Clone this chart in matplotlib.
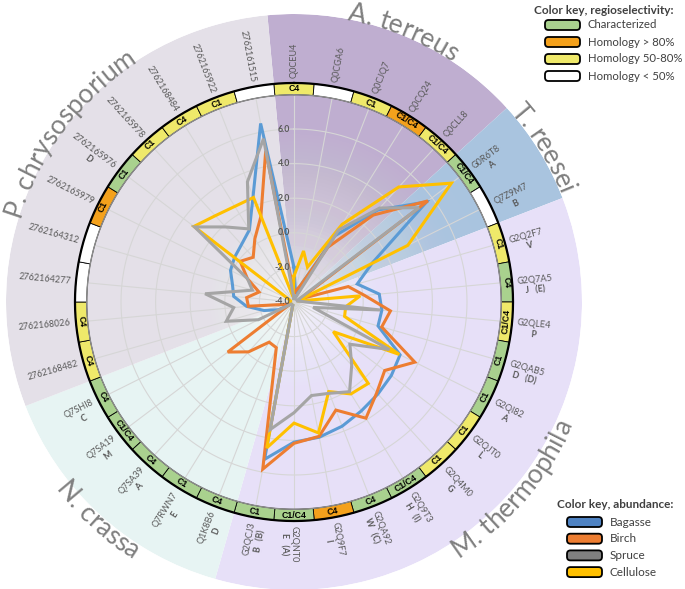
import numpy as np
import matplotlib
matplotlib.use("Agg")
import matplotlib.pyplot as plt
from matplotlib.patches import FancyBboxPatch
from matplotlib.font_manager import FontProperties

plt.rcParams['font.family'] = ['Lato', 'DejaVu Sans']

# --- data, clockwise from the top ---
enzymes = ['Q0CEU4', 'Q0CGA6', 'Q0CJQ7', 'Q0CQ24', 'Q0CLL8',
           'G0R6T8', 'Q7Z9M7',
           'G2Q2F7', 'G2Q7A5', 'G2QLE4', 'G2QAB5', 'G2QI82', 'G2QJT0',
           'G2Q4M0', 'G2Q9T3', 'G2QA92', 'G2Q9F7', 'G2QNT0', 'G2QCJ3',
           'Q1K8B6', 'Q7RWN7', 'Q7SA39', 'Q7SA19', 'Q7SHI8',
           '2762168482', '2762168026', '2762164277', '2762164312', '2762165979',
           '2762165976', '2762165978', '2762168484', '2762165922', '2762161515']
sub_labels = ['', '', '', '', '',
              'A', 'B',
              'V', 'J   (E)', 'P', 'D   (D)', 'A', 'L',
              'G', 'H   (I)', 'W   (C)', 'I', 'E   (A)', 'B   (B)',
              'D', 'E', 'A', 'M', 'C',
              '', '', '', '', '',
              'D', '', '', '', '']
regio = ['C4', '', 'C1', 'C1/C4', 'C1/C4',
         'C1/C4', '',
         'C1', 'C4', 'C1/C4', 'C1', 'C1', 'C1',
         'C1', 'C1/C4', 'C4', 'C4', 'C1/C4', 'C1',
         'C4', 'C1', 'C4', 'C1/C4', 'C4',
         'C4', 'C4', '', '', 'C1',
         'C1', 'C1', 'C4', 'C1', '']
# homology class of each enzyme: char / h80 / h50 / low
homology = ['h50', 'low', 'h50', 'h80', 'h50',
            'char', 'low',
            'h50', 'char', 'h50', 'char', 'char', 'h50',
            'h50', 'char', 'char', 'h80', 'char', 'char',
            'char', 'char', 'char', 'char', 'char',
            'h50', 'h50', 'low', 'low', 'h80',
            'char', 'h50', 'h50', 'h50', 'low']

species = ['A. terreus', 'T. reesei', 'M. thermophila', 'N. crassa', 'P. chrysosporium']
species_counts = [5, 2, 12, 5, 10]

bagasse = [-2.0, -3.5, -3.0, 0.5, 3.2, 5.6, 1.05, -0.2, 0.95, 1.1, 1.05, 2.85,
           3.05, 3.2, 3.4, 3.7, 3.95, 4.1, 5.25, -3.8, -3.8, -3.8, -3.8, -3.0,
           -2.2, -1.25, -0.5, -0.3, 0.1, 0.3, 0.5, 0.9, 2.55, 6.5]
birch = [-3.5, -3.3, -3.0, -0.27, 2.8, 5.7, -3.6, -0.74, 0.1, 1.6, 1.27, 3.8,
         2.57, 3.1, 3.9, 2.7, 3.9, 4.17, 5.83, -1.17, -1.27, -0.1, 0.8, -3.8,
         -3.5, -1.35, -1.25, -1.9, -1.0, -0.1, -0.5, 0.3, 1.3, 4.9]
spruce = [-3.8, -3.6, -3.7, 0.9, 3.35, 5.05, -3.8, -3.8, -3.6, 1.0, -2.85, 2.16,
          0.05, 0.95, 2.1, 1.66, 1.5, 2.4, 3.5, -3.8, -3.8, -3.8, -3.8, -1.7,
          0.07, -0.5, 1.16, -1.5, -1.0, 3.2, 1.87, 0.97, 3.45, 5.6]
cellulose = [-2.5, -1.0, -1.84, 1.28, 5.0, 7.4, 3.35, -3.8, -0.16, -1.0, -0.96, 2.8,
             -1.15, 2.37, 2.25, 1.55, 3.7, 3.0, 4.58, -3.8, -3.8, -3.8, -3.8, -3.8,
             -3.8, -3.8, -3.8, -3.8, -3.7, 3.25, 2.75, 2.5, 2.48, -3.7]

r_ticks = [-4.0, -2.0, 0.0, 2.0, 4.0, 6.0]

# --- styling ---
species_colors = ['#bfaed0', '#a9c4df', '#e7e0f8', '#e7f4f3', '#e4e0e8']
homology_colors = {'char': '#a9d18e', 'h80': '#f4a11c', 'h50': '#efe96a', 'low': '#ffffff'}
series = [('Bagasse', bagasse, '#5b9bd5', '#4f83c3'),
          ('Birch', birch, '#ed7d31', '#ed7d31'),
          ('Cellulose', cellulose, '#ffc000', '#ffc000'),
          ('Spruce', spruce, '#a5a5a5', '#808080')]
legend_order = ['Bagasse', 'Birch', 'Spruce', 'Cellulose']
text_gray = '#595959'

W, H = 685, 589
CX, CY = 294, 302          # centre of the chart in pixels (from top-left)
R_PX = 288                 # outer radius of the species wedges
PX_PER_UNIT = 17.3
RMIN = -4.0
RMAX = RMIN + R_PX / PX_PER_UNIT
RING_IN, RING_OUT = 7.98, 8.66


def px_to_r(px):
    return RMIN + px / PX_PER_UNIT


def curved_text(ax, renderer, text, theta_mid, r_px, outward=True, size=19, color='#808080'):
    """Place text character by character along a circle."""
    prop = FontProperties(family='Lato', size=size)

    def width(s):
        return renderer.get_text_width_height_descent(s, prop, ismath=False)[0]

    total = width(text)
    r_data = px_to_r(r_px)
    for i, ch in enumerate(text):
        if ch == ' ':
            continue
        c = width(text[:i + 1]) - width(ch) / 2
        dang = np.degrees((c - total / 2) / r_px)
        if outward:
            th = theta_mid + dang
            rot = -th
        else:
            th = theta_mid - dang
            rot = 180 - th
        ax.text(np.radians(th), r_data, ch, fontproperties=prop, color=color,
                rotation=rot, ha='center', va='baseline', rotation_mode='anchor',
                clip_on=False, zorder=8)


fig = plt.figure(figsize=(W / 100, H / 100), dpi=100)
renderer = fig.canvas.get_renderer()

ax = fig.add_axes([(CX - R_PX) / W, (H - CY - R_PX) / H, 2 * R_PX / W, 2 * R_PX / H],
                  projection='polar')
ax.set_theta_zero_location('N')
ax.set_theta_direction(-1)
ax.set_ylim(RMIN, RMAX)
ax.set_xticks([])
ax.set_yticks([])
ax.grid(False)
ax.spines['polar'].set_visible(False)
ax.set_facecolor('none')

n = len(enzymes)
step = 2 * np.pi / n
theta = np.arange(n) * step
circle_t = np.linspace(0, 2 * np.pi, 721)

# species wedges
start = 0
for name, cnt, col in zip(species, species_counts, species_colors):
    t0 = (start - 0.5) * step
    t1 = (start + cnt - 0.5) * step
    ax.bar((t0 + t1) / 2, RMAX - RMIN, width=t1 - t0, bottom=RMIN,
           color=col, edgecolor='none', zorder=0)
    start += cnt

# white glow in the middle: stacked translucent discs
n_disc = 60
glow_px = 210.0
edges = np.linspace(0, glow_px, n_disc + 1)[1:]
mids = edges - glow_px / n_disc / 2
transmit = 1 - 0.95 * np.clip(1 - mids / glow_px, 0, 1) ** 1.3
transmit = np.append(transmit, 1.0)
for k in range(n_disc):
    a = 1 - transmit[k] / transmit[k + 1]
    ax.bar(0, edges[k] / PX_PER_UNIT, width=2 * np.pi, bottom=RMIN,
           color='white', alpha=a, edgecolor='none', linewidth=0, zorder=0.5)

# grid
for t in theta:
    ax.plot([t, t], [RMIN, RING_IN], color='#d6d6d6', lw=0.8, zorder=1)
for rv in [-2, 0, 2, 4, 6]:
    ax.plot(circle_t, np.full_like(circle_t, rv), color='#d6d6d6', lw=0.8, zorder=1)

# abundance lines
closed_t = np.append(theta, theta[0])
for name, vals, col, _ in series:
    v = np.append(vals, vals[0])
    ax.plot(closed_t, v, color=col, lw=2.2, zorder=3, solid_joinstyle='miter')

# regioselectivity ring
for i in range(n):
    ax.bar(theta[i], RING_OUT - RING_IN, width=step, bottom=RING_IN,
           color=homology_colors[homology[i]], edgecolor='black', linewidth=0.6, zorder=4)
ax.plot(circle_t, np.full_like(circle_t, RING_OUT), color='black', lw=1.6, zorder=5)
ax.plot(circle_t, np.full_like(circle_t, RING_IN), color='#8c8c8c', lw=1.0, zorder=5)

for i in range(n):
    deg = np.degrees(theta[i])
    if regio[i]:
        rot = 180 - deg if 90 < deg < 270 else -deg
        ax.text(theta[i], (RING_IN + RING_OUT) / 2, regio[i], rotation=rot,
                ha='center', va='center', rotation_mode='anchor', fontsize=6.3,
                fontweight='bold', family='Liberation Sans', color='black', zorder=6)

    # enzyme labels outside the ring
    if deg <= 180:
        rot, ha, sign = 90 - deg, 'left', 1
    else:
        rot, ha, sign = 270 - deg, 'right', -1
    ax.text(theta[i], 8.95, enzymes[i], rotation=rot, ha=ha, va='center',
            rotation_mode='anchor', fontsize=6.5, color=text_gray, clip_on=False, zorder=6)
    if sub_labels[i]:
        prop = FontProperties(family='Lato', size=6.5)
        w_pt = renderer.get_text_width_height_descent(enzymes[i], prop, ismath=False)[0] * 0.72
        along, perp = sign * w_pt / 2, -7.5
        a = np.radians(rot)
        ox = along * np.cos(a) - perp * np.sin(a)
        oy = along * np.sin(a) + perp * np.cos(a)
        ax.annotate(sub_labels[i], xy=(theta[i], 8.95), xytext=(ox, oy),
                    textcoords='offset points', rotation=rot, ha='center', va='center',
                    rotation_mode='anchor', fontsize=6.3, fontweight='bold',
                    color=text_gray, annotation_clip=False, zorder=6)

# radial tick labels
for rv in r_ticks:
    ax.annotate(f'{rv:.1f}', xy=(0, rv), xytext=(-3, 0), textcoords='offset points',
                ha='right', va='center', fontsize=6.3, fontweight='bold',
                color=text_gray, zorder=6)

# species names along the outer arc
species_pos = {'A. terreus': (22.0, 287, True),
               'T. reesei': (58.4, 287, True),
               'M. thermophila': (130.5, 304, False),
               'N. crassa': (222.0, 304, False),
               'P. chrysosporium': (307.0, 287, True)}
for name in species:
    mid, rpx, outward = species_pos[name]
    curved_text(ax, renderer, name, mid, rpx, outward=outward, size=19)

# legends in pixel coordinates
lax = fig.add_axes([0, 0, 1, 1])
lax.set_xlim(0, W)
lax.set_ylim(H, 0)
lax.axis('off')


def key_box(x, y, color):
    lax.add_patch(FancyBboxPatch((x, y - 5), 35, 10, boxstyle='round,pad=0,rounding_size=3.5',
                                 facecolor=color, edgecolor='black', linewidth=1.3, zorder=10))


lax.text(604, 10, 'Color key, regioselectivity:', ha='center', va='center',
         fontsize=8.5, fontweight='bold', color='#404040')
homology_keys = [('char', 'Characterized'), ('h80', 'Homology > 80%'),
                 ('h50', 'Homology 50-80%'), ('low', 'Homology < 50%')]
for k, (key, label) in enumerate(homology_keys):
    y = 25 + k * 17
    key_box(545, y, homology_colors[key])
    lax.text(588, y, label, ha='left', va='center', fontsize=8.2, color='#404040')

lax.text(615, 505, 'Color key, abundance:', ha='center', va='center',
         fontsize=8.5, fontweight='bold', color='#404040')
legend_colors = {name: lc for name, _, _, lc in series}
for k, name in enumerate(legend_order):
    y = 522 + k * 16.7
    key_box(567, y, legend_colors[name])
    lax.text(610, y, name, ha='left', va='center', fontsize=8.5, color='#404040')

fig.savefig('out.png', dpi=100, facecolor='white')
